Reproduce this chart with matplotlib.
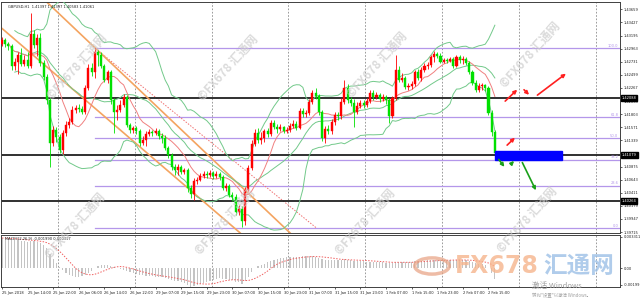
import numpy as np
import pandas as pd
import matplotlib
matplotlib.use("Agg")
import matplotlib.pyplot as plt
import matplotlib.transforms as mtransforms
from matplotlib.patches import Rectangle

# ---------------- data (GBPUSD H1) ----------------
open0 = 1.4305
close = [1.4312, 1.4305, 1.4301, 1.4266, 1.4273, 1.4285, 1.4269, 1.4276, 1.4266, 1.4322,
         1.4303, 1.4315, 1.4271, 1.4246, 1.4205, 1.4129, 1.4152, 1.4140, 1.4117, 1.4147,
         1.4161, 1.4166, 1.4188, 1.4191, 1.4189, 1.4184, 1.4227, 1.4262, 1.4255, 1.4290,
         1.4285, 1.4266, 1.4241, 1.4255, 1.4205, 1.4184, 1.4188, 1.4196, 1.4211, 1.4161,
         1.4152, 1.4156, 1.4150, 1.4129, 1.4135, 1.4145, 1.4149, 1.4147, 1.4150, 1.4142,
         1.4138, 1.4120, 1.4108, 1.4087, 1.4081, 1.4087, 1.4078, 1.4081, 1.4049, 1.4039,
         1.4062, 1.4064, 1.4071, 1.4074, 1.4073, 1.4076, 1.4071, 1.4074, 1.4069, 1.4049,
         1.4053, 1.4037, 1.4033, 1.4007, 1.4012, 1.3991, 1.4046, 1.4085, 1.4127, 1.4147,
         1.4135, 1.4138, 1.4150, 1.4145, 1.4165, 1.4158, 1.4154, 1.4158, 1.4150, 1.4152,
         1.4159, 1.4163, 1.4156, 1.4186, 1.4181, 1.4182, 1.4202, 1.4218, 1.4212, 1.4184,
         1.4138, 1.4154, 1.4150, 1.4166, 1.4179, 1.4177, 1.4202, 1.4227, 1.4205, 1.4200,
         1.4184, 1.4195, 1.4200, 1.4196, 1.4204, 1.4218, 1.4211, 1.4214, 1.4207, 1.4211,
         1.4205, 1.4177, 1.4209, 1.4258, 1.4241, 1.4244, 1.4228, 1.4230, 1.4234, 1.4255,
         1.4244, 1.4258, 1.4266, 1.4267, 1.4281, 1.4287, 1.4283, 1.4273, 1.4276, 1.4274,
         1.4278, 1.4266, 1.4281, 1.4276, 1.4278, 1.4271, 1.4255, 1.4235, 1.4223, 1.4230,
         1.4232, 1.4227, 1.4182, 1.4149, 1.4112]
high = [1.4317, 1.4315, 1.4308, 1.4305, 1.4280, 1.4290, 1.4297, 1.4285, 1.4290, 1.4359,
        1.4329, 1.4322, 1.4324, 1.4276, 1.4251, 1.4209, 1.4159, 1.4158, 1.4145, 1.4152,
        1.4168, 1.4173, 1.4195, 1.4196, 1.4198, 1.4195, 1.4232, 1.4269, 1.4271, 1.4297,
        1.4294, 1.4290, 1.4269, 1.4258, 1.4258, 1.4209, 1.4196, 1.4205, 1.4216, 1.4214,
        1.4165, 1.4159, 1.4159, 1.4154, 1.4142, 1.4150, 1.4154, 1.4152, 1.4156, 1.4154,
        1.4147, 1.4143, 1.4124, 1.4112, 1.4092, 1.4092, 1.4090, 1.4085, 1.4085, 1.4055,
        1.4067, 1.4069, 1.4076, 1.4080, 1.4080, 1.4081, 1.4080, 1.4080, 1.4078, 1.4073,
        1.4058, 1.4057, 1.4042, 1.4039, 1.4019, 1.4018, 1.4051, 1.4090, 1.4135, 1.4154,
        1.4156, 1.4149, 1.4154, 1.4156, 1.4170, 1.4170, 1.4163, 1.4163, 1.4159, 1.4158,
        1.4165, 1.4170, 1.4168, 1.4191, 1.4191, 1.4188, 1.4207, 1.4223, 1.4227, 1.4216,
        1.4188, 1.4159, 1.4161, 1.4172, 1.4184, 1.4184, 1.4209, 1.4241, 1.4234, 1.4211,
        1.4207, 1.4202, 1.4205, 1.4205, 1.4209, 1.4223, 1.4223, 1.4219, 1.4218, 1.4216,
        1.4214, 1.4209, 1.4212, 1.4285, 1.4266, 1.4253, 1.4248, 1.4235, 1.4239, 1.4258,
        1.4260, 1.4264, 1.4271, 1.4273, 1.4285, 1.4292, 1.4290, 1.4289, 1.4280, 1.4280,
        1.4281, 1.4281, 1.4285, 1.4285, 1.4283, 1.4281, 1.4274, 1.4258, 1.4241, 1.4235,
        1.4235, 1.4234, 1.4230, 1.4188, 1.4152]
low = [1.4301, 1.4299, 1.4294, 1.4258, 1.4258, 1.4251, 1.4266, 1.4266, 1.4262, 1.4262,
       1.4297, 1.4283, 1.4266, 1.4241, 1.4198, 1.4087, 1.4124, 1.4131, 1.4112, 1.4110,
       1.4142, 1.4156, 1.4163, 1.4182, 1.4184, 1.4181, 1.4181, 1.4223, 1.4248, 1.4244,
       1.4266, 1.4262, 1.4237, 1.4235, 1.4198, 1.4147, 1.4170, 1.4184, 1.4193, 1.4158,
       1.4147, 1.4147, 1.4145, 1.4124, 1.4126, 1.4124, 1.4142, 1.4142, 1.4143, 1.4136,
       1.4129, 1.4117, 1.4103, 1.4081, 1.4073, 1.4073, 1.4074, 1.4074, 1.4042, 1.4032,
       1.4028, 1.4057, 1.4062, 1.4067, 1.4067, 1.4069, 1.4065, 1.4067, 1.4064, 1.4046,
       1.4044, 1.4033, 1.4026, 1.4002, 1.4002, 1.3980, 1.3984, 1.4044, 1.4081, 1.4124,
       1.4129, 1.4127, 1.4131, 1.4140, 1.4142, 1.4154, 1.4147, 1.4150, 1.4147, 1.4147,
       1.4149, 1.4156, 1.4152, 1.4154, 1.4175, 1.4175, 1.4179, 1.4198, 1.4207, 1.4179,
       1.4133, 1.4129, 1.4145, 1.4145, 1.4161, 1.4170, 1.4172, 1.4198, 1.4200, 1.4195,
       1.4158, 1.4181, 1.4191, 1.4191, 1.4193, 1.4200, 1.4205, 1.4207, 1.4202, 1.4204,
       1.4198, 1.4165, 1.4173, 1.4205, 1.4237, 1.4237, 1.4225, 1.4223, 1.4225, 1.4230,
       1.4241, 1.4239, 1.4255, 1.4260, 1.4264, 1.4273, 1.4280, 1.4271, 1.4271, 1.4271,
       1.4273, 1.4262, 1.4264, 1.4271, 1.4269, 1.4267, 1.4251, 1.4232, 1.4219, 1.4219,
       1.4223, 1.4221, 1.4179, 1.4142, 1.4106]
macd_main = [0.0030, 0.0030, 0.0029, 0.0029, 0.0028, 0.0028, 0.0027, 0.0027, 0.0026, 0.0027,
             0.0027, 0.0026, 0.0025, 0.0023, 0.0020, 0.0014, 0.0009, 0.0005, 0.0001, -0.0002,
             -0.0005, -0.0007, -0.0008, -0.0009, -0.0009, -0.0008, -0.0007, -0.0005, -0.0003, 0.0000,
             0.0002, 0.0003, 0.0003, 0.0003, 0.0002, 0.0001, 0.0000, -0.0001, -0.0002, -0.0003,
             -0.0004, -0.0005, -0.0006, -0.0007, -0.0007, -0.0008, -0.0008, -0.0008, -0.0009, -0.0009,
             -0.0009, -0.0010, -0.0011, -0.0012, -0.0013, -0.0013, -0.0014, -0.0015, -0.0017, -0.0019,
             -0.0018, -0.0017, -0.0016, -0.0015, -0.0014, -0.0013, -0.0012, -0.0011, -0.0010, -0.0011,
             -0.0011, -0.0012, -0.0012, -0.0014, -0.0014, -0.0016, -0.0013, -0.0009, -0.0004, 0.0000,
             0.0002, 0.0003, 0.0004, 0.0006, 0.0007, 0.0008, 0.0009, 0.0010, 0.0010, 0.0011,
             0.0011, 0.0011, 0.0011, 0.0011, 0.0012, 0.0012, 0.0012, 0.0012, 0.0011, 0.0010,
             0.0009, 0.0008, 0.0008, 0.0008, 0.0008, 0.0008, 0.0008, 0.0009, 0.0008, 0.0008,
             0.0007, 0.0007, 0.0007, 0.0007, 0.0006, 0.0006, 0.0006, 0.0006, 0.0006, 0.0006,
             0.0005, 0.0005, 0.0005, 0.0006, 0.0006, 0.0006, 0.0006, 0.0006, 0.0006, 0.0007,
             0.0007, 0.0007, 0.0007, 0.0008, 0.0008, 0.0008, 0.0008, 0.0008, 0.0008, 0.0008,
             0.0008, 0.0008, 0.0008, 0.0008, 0.0008, 0.0008, 0.0007, 0.0006, 0.0005, 0.0004,
             0.0004, 0.0003, 0.0000, -0.0005, -0.0011]

time_labels = ["25 Jan 2018", "25 Jan 14:00", "25 Jan 22:00", "26 Jan 06:00", "26 Jan 14:00",
               "26 Jan 22:00", "29 Jan 07:00", "29 Jan 15:00", "29 Jan 23:00", "30 Jan 07:00",
               "30 Jan 15:00", "30 Jan 23:00", "31 Jan 07:00", "31 Jan 15:00", "31 Jan 23:00",
               "1 Feb 07:00", "1 Feb 15:00", "1 Feb 23:00", "2 Feb 07:00", "2 Feb 15:00"]
price_ticks = [1.39715, 1.39947, 1.40179, 1.40411, 1.40643, 1.40875, 1.41339, 1.41571,
               1.41803, 1.42035, 1.42267, 1.42499, 1.42731, 1.42963, 1.43195, 1.43427, 1.43659]
fib_low, fib_high = 1.3978, 1.4297
fib_levels = [0.0, 23.6, 38.2, 50.0, 61.8, 100.0]
h_lines = [1.4209, 1.4108, 1.4026]
h_line_labels = ["1.42088", "1.41079", "1.40264"]
macd_ticks = [0.0031, 0.0, -0.0017]
macd_tick_labels = ["0.003311", "0.00", "-0.00199"]

# drawn objects (bar index, price)
chan_upper = [(13.4, 1.4382), (90.0, 1.3970)]
chan_lower = [(-0.6, 1.4335), (74.4, 1.3970)]
fib_trend = [(29.1, 1.4297), (98.4, 1.3978)]
red_arrows = [((156.6, 1.4200), (161.6, 1.4227)), ((162.5, 1.4227), (165.3, 1.4211)),
              ((166.6, 1.4211), (176.9, 1.4255)), ((157.2, 1.4122), (160.9, 1.4142))]
green_arrows = [((154.7, 1.4104), (157.5, 1.4083)), ((158.4, 1.4088), (160.6, 1.4101)),
                ((162.2, 1.4099), (167.2, 1.4041))]
blue_box = (154.1, 1.4099, 20.9, 0.0016)

# ---------------- derived ----------------
n = len(close)
x = np.arange(n)
opens = [open0] + close[:-1]
cs = pd.Series(close)
bb_mid = cs.rolling(20, min_periods=5).mean()
bb_sd = cs.rolling(20, min_periods=5).std(ddof=0)
bb_up = bb_mid + 2 * bb_sd
bb_dn = bb_mid - 2 * bb_sd
ma10 = cs.rolling(10, min_periods=3).mean()
signal = pd.Series(macd_main).rolling(9, min_periods=1).mean()

plt.rcParams['font.family'] = ['DejaVu Sans']
fig = plt.figure(figsize=(6.4, 3.0), dpi=100)
ax = fig.add_axes([1 / 640, 67 / 300, 619 / 640, 231 / 300])
ax2 = fig.add_axes([1 / 640, 13 / 300, 619 / 640, 52 / 300])

XL = (-0.31, 193.1)
for a in (ax, ax2):
    a.set_xlim(*XL)
    for s in a.spines.values():
        s.set_color('#404040')
        s.set_linewidth(0.7)
ax.set_ylim(1.39698, 1.43789)
ax2.set_ylim(-0.0019, 0.0033)

# vertical dashed grid
grid_bars = [17.5, 41.5, 65.5, 89.5, 113.5, 137.5, 161.5, 185.5]
for g in grid_bars:
    for a in (ax, ax2):
        a.axvline(g, color='#8a8a8a', lw=0.6, ls=(0, (2, 2)), zorder=0)

# watermarks
wm_font = ['Noto Sans CJK SC', 'DejaVu Sans']
for (px, py) in [(77, 67), (228, 68), (377, 65), (530, 55), (75, 226), (225, 222), (365, 222), (527, 220)]:
    fig.text(px / 640, 1 - py / 300, "©FX678 汇通网", rotation=48, ha='center', va='center',
             fontsize=8.5, fontweight='bold', color='#cccccc', alpha=0.7, family=wm_font, zorder=0)

# fib levels
fcol = '#b497ea'
for lv in fib_levels:
    pv = fib_low + (fib_high - fib_low) * lv / 100.0
    ax.plot([29.1, XL[1]], [pv, pv], color=fcol, lw=0.9, zorder=1)
    ax.text(XL[1] - 0.5, pv + 0.00008, "%.1f" % lv, color=fcol, fontsize=2.6, ha='right', va='bottom')
ax.plot([fib_trend[0][0], fib_trend[1][0]], [fib_trend[0][1], fib_trend[1][1]],
        color='#f07070', lw=0.7, ls=(0, (1.5, 1.5)), zorder=2)

# horizontal black lines
for hv in h_lines:
    ax.axhline(hv, color='#202020', lw=1.3, zorder=2)

# channel lines
for seg in (chan_upper, chan_lower):
    ax.plot([seg[0][0], seg[1][0]], [seg[0][1], seg[1][1]], color='#f4a460', lw=1.2, zorder=2)

# indicators
ax.plot(x, bb_up, color='#72c98a', lw=0.7, zorder=3)
ax.plot(x, bb_dn, color='#72c98a', lw=0.7, zorder=3)
ax.plot(x, bb_mid, color='#72c98a', lw=0.7, zorder=3)
ax.plot(x, ma10, color='#f08080', lw=0.7, zorder=3)

# candles
for i in range(n):
    o, c, h, l = opens[i], close[i], high[i], low[i]
    col = '#ff0000' if c >= o else '#00e000'
    ax.vlines(i, l, h, color=col, lw=0.6, zorder=4)
    body = max(abs(c - o), 0.00005)
    ax.add_patch(Rectangle((i - 0.33, min(o, c)), 0.66, body, facecolor=col, edgecolor=col, lw=0.3, zorder=5))

# blue rectangle
bx, by, bw, bh = blue_box
ax.add_patch(Rectangle((bx, by), bw, bh, facecolor='#0000ff', edgecolor='#0000ff', zorder=6))

# arrows
for (p0, p1) in red_arrows:
    ax.annotate("", xy=p1, xytext=p0,
                arrowprops=dict(arrowstyle='-|>', color='#ff2020', lw=1.2, mutation_scale=5), zorder=7)
for (p0, p1) in green_arrows:
    ax.annotate("", xy=p1, xytext=p0,
                arrowprops=dict(arrowstyle='-|>', color='#1aa01a', lw=1.2, mutation_scale=5), zorder=7)

# right price axis
ax.yaxis.tick_right()
ax.set_yticks(price_ticks)
ax.set_yticklabels(["%.5f" % v for v in price_ticks])
ax.tick_params(axis='y', labelsize=2.6, length=1.5, width=0.5, pad=1, colors='#202020')
ax.set_xticks([])
trans = mtransforms.blended_transform_factory(ax.transAxes, ax.transData)
for hv, lab in zip(h_lines, h_line_labels):
    ax.text(1.003, hv, lab, transform=trans, color='white', fontsize=2.6, va='center', ha='left',
            bbox=dict(facecolor='black', edgecolor='black', pad=0.6), zorder=8, clip_on=False)

ax.text(0.012, 0.985, "GBPUSD,H1  1.41397 1.41397 1.40583 1.41061", transform=ax.transAxes,
        fontsize=2.6, va='top', ha='left', color='#202020')

# MACD panel
ax2.bar(x, macd_main, width=0.35, color='#c4c4c4', zorder=2)
ax2.plot(x, signal, color='#f06060', lw=0.7, ls=(0, (1.5, 1.5)), zorder=3)
ax2.yaxis.tick_right()
ax2.set_yticks(macd_ticks)
ax2.set_yticklabels(macd_tick_labels)
ax2.tick_params(axis='y', labelsize=2.6, length=1.5, width=0.5, pad=1, colors='#202020')
ax2.set_xticks([8 * k for k in range(len(time_labels))])
ax2.set_xticklabels(time_labels, ha='left')
ax2.tick_params(axis='x', labelsize=2.6, length=1.5, width=0.5, pad=1.5, colors='#202020')
ax2.text(0.006, 0.96, "MACD(12,26,9) -0.001990 0.000317", transform=ax2.transAxes,
         fontsize=2.6, va='top', ha='left', color='#202020')

# big logo watermark
fig.text(455 / 640, 1 - 266 / 300, "FX678", fontsize=17, fontweight='bold', color='#f6b48c',
         alpha=0.8, ha='left', va='center', family=['DejaVu Sans'])
fig.text(543 / 640, 1 - 266 / 300, "汇通网", fontsize=17, fontweight='bold', color='#9cc0e6',
         alpha=0.8, ha='left', va='center', family=wm_font)
circ = plt.Circle((432 / 640, 1 - 266 / 300), 0.027, transform=fig.transFigure, fill=False,
                  edgecolor='#e8a080', lw=2.5, alpha=0.7)
fig.add_artist(circ)
fig.text(532 / 640, 1 - 288 / 300, "激活 Windows", fontsize=5.5, color='#a0a0a0', family=wm_font)
fig.text(532 / 640, 1 - 297 / 300, "转到\"设置\"以激活 Windows。", fontsize=3.2, color='#a0a0a0', family=wm_font)

fig.savefig("out.png", dpi=100, facecolor='white')
